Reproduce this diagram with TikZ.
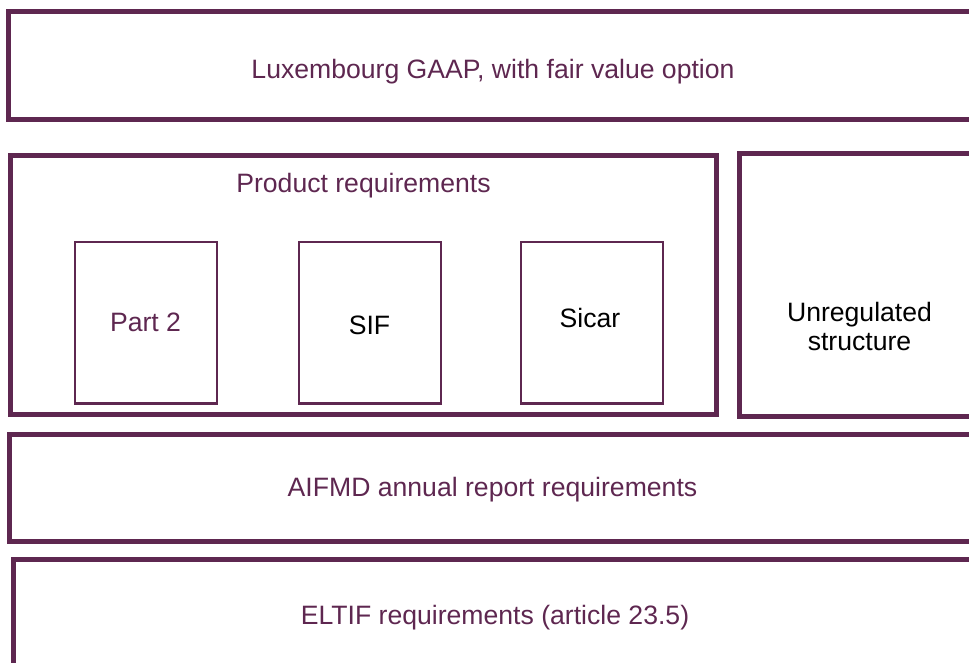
\documentclass[tikz,border=0pt]{standalone}
\usepackage{fontspec}
\setmainfont{Liberation Sans}
\definecolor{plum}{HTML}{5E2750}
\begin{document}
\begin{tikzpicture}[x=1pt,y=-1pt,
  outer/.style={draw=plum,line width=5pt},
  inner/.style={draw=plum,line width=2.5pt},
  lbl/.style={anchor=base,inner sep=0pt,font=\fontsize{26.6}{28.5}\selectfont,text=plum},
  blk/.style={lbl,text=black,align=center}]
\useasboundingbox (0,0) rectangle (969,663);
\clip (0,0) rectangle (969,663);
% framework layers
\draw[outer] (8.5,11.5) rectangle (1000,119.5);
\draw[outer] (10.5,155.5) rectangle (716.5,414);
\draw[outer] (739,153.5) rectangle (1000,416);
\draw[outer] (9,434) rectangle (1000,541.5);
\draw[outer] (13,559.5) rectangle (1000,700);
% product types
\draw[inner] (75,242) rectangle (217,403.5);
\draw[inner] (299,242) rectangle (441,403.5);
\draw[inner] (521,242) rectangle (663,403.5);
% labels
\node[lbl] (gaap) at (493,78.3) {Luxembourg GAAP, with fair value option};
\node[lbl] (prod) at (363.5,193) {Product requirements};
\node[lbl] (part2) at (145.5,331.7) {Part 2};
\node[blk] (sif) at (369.5,334) {SIF};
\node[blk] (sicar) at (590,327) {Sicar};
\node[blk,anchor=north] (unreg) at (859.5,302.5) {Unregulated\\structure};
\node[lbl] (aifmd) at (492.5,496.7) {AIFMD annual report requirements};
\node[lbl] (eltif) at (495,624.3) {ELTIF requirements (article 23.5)};
\end{tikzpicture}
\end{document}
